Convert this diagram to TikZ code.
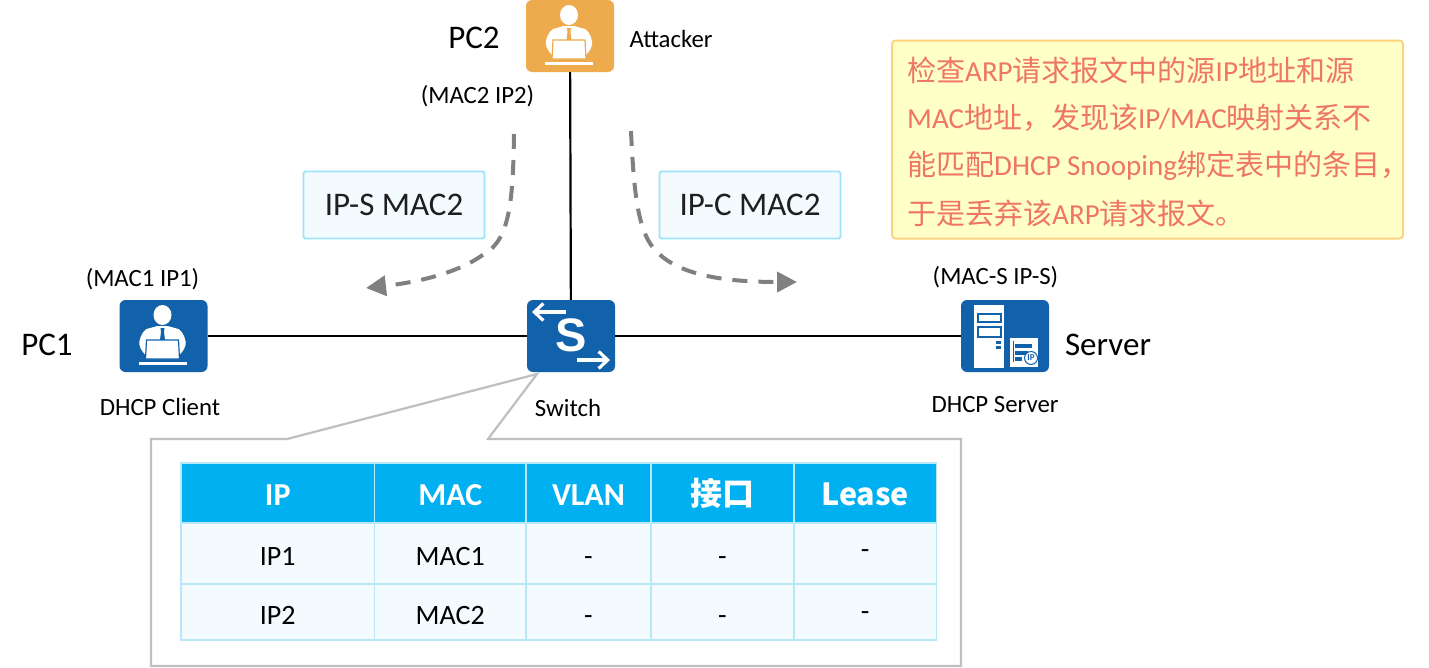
\documentclass[tikz,border=0pt]{standalone}
\usepackage{fontspec}
\setmainfont{Carlito}
\newfontfamily\cjk{Noto Sans CJK SC}
\newfontfamily\arialbold{Liberation Sans}
\usetikzlibrary{arrows.meta}

\definecolor{icblue}{HTML}{1262AB}
\definecolor{icorange}{HTML}{EDAB4E}
\definecolor{packfill}{HTML}{F3FBFF}
\definecolor{packline}{HTML}{9FE2FA}
\definecolor{headfill}{HTML}{00B0F0}
\definecolor{cellline}{HTML}{B8E8F8}
\definecolor{notefill}{HTML}{FFFFC8}
\definecolor{noteline}{HTML}{FFD27F}
\definecolor{notetext}{HTML}{EE7568}
\definecolor{flowgray}{HTML}{808080}
\definecolor{framegray}{HTML}{BFBFBF}

\newcommand{\zh}[1]{{\cjk #1}}
\newcommand{\fs}[1]{\fontsize{#1}{#1}\selectfont}

\tikzset{
  iconbox/.style={rectangle, rounded corners=6pt, minimum width=88pt, minimum height=72pt, inner sep=0pt},
  biglabel/.style={inner sep=0pt, font=\fs{33}},
  smalllabel/.style={inner sep=0pt, font=\fs{24.8}},
  packet/.style={draw=packline, fill=packfill, line width=1.8pt, rounded corners=1.5pt, minimum width=181pt,
    minimum height=67pt, inner sep=0pt, font=\fs{33}, text=black!88},
  flow/.style={draw=flowgray, line width=4pt, dash pattern=on 15pt off 11pt, -{Triangle[length=20pt,width=20pt]}},
  cell/.style={draw=cellline, line width=1.8pt, inner sep=0pt, minimum height=#1, text height=26pt, text depth=2pt},
  headcell/.style={cell=60pt, fill=headfill, text=white, font=\fs{32}\bfseries},
  bodycell/.style={cell=57pt, fill=packfill, font=\fs{28}},
  pics/person/.style={code={
    \fill[white] (-1,-21) ellipse (9pt and 10pt);
    \fill[white] (-6,-10) -- (-17,-7) .. controls (-22,-4) and (-25,5) .. (-24,9) .. controls (-23,14) and (-19,18) .. (-16,21)
      -- (14,21) .. controls (17,18) and (21,14) .. (22,9) .. controls (23,5) and (20,-4) .. (15,-7) -- (4,-10) -- cycle;
    \fill[#1] (-3,-8) -- (1,-8) -- (0.5,-4) -- (1.5,4) -- (-3.5,4) -- (-2.5,-4) -- cycle;
    \draw[#1, fill=white, line width=1.2pt] (-17,4) -- (15,4) -- (16,23) -- (-18,23) -- cycle;
    \fill[white] (-25,26) rectangle (23,28.5);
  }}
}

\begin{document}
\begin{tikzpicture}[x=1pt,y=-1pt]
  \useasboundingbox (0,0) rectangle (1429,667);

  % devices
  \node (attacker) [iconbox, fill=icorange] at (570,36) {};
  \node (client)   [iconbox, fill=icblue]   at (163.5,336) {};
  \node (switch)   [iconbox, fill=icblue]   at (571,336) {};
  \node (server)   [iconbox, fill=icblue]   at (1005,336) {};

  \draw[line width=2.2pt] (client) -- (switch);
  \draw[line width=2.2pt] (switch) -- (server);
  \draw[line width=2.2pt] (attacker) -- (switch);

  \pic at (attacker) {person=icorange};
  \pic at (client) {person=icblue};

  % switch glyph
  \begin{scope}[shift={(switch.center)}]
    \draw[white, line width=3.2pt, {Straight Barb[length=9pt,width=17pt]}-] (-39,-24) -- (-5,-24);
    \draw[white, line width=3.2pt, -{Straight Barb[length=9pt,width=17pt]}] (6,24) -- (39,24);
    \node (swS) [inner sep=0pt, text=white, font=\arialbold\bfseries\fs{47}] at (0,-1) {S};
  \end{scope}

  % server glyph
  \begin{scope}[shift={(server.center)}]
    \fill[white] (-31,-31) rectangle (-1,32);
    \draw[icblue, line width=1.5pt] (-27,-22) rectangle (-4,-14);
    \draw[icblue, line width=1.5pt] (-27,-9) rectangle (-4,1);
    \fill[icblue] (-9,5) rectangle (-4,8);
    \fill[icblue] (-9,10) rectangle (-4,13);
    \fill[white] (5,2) rectangle (33,31);
    \fill[icblue] (7.5,5) rectangle (8.5,26);
    \fill[icblue] (10,8) rectangle (27,12);
    \fill[icblue] (10,15) rectangle (23,19);
    \fill[icblue] (10,21) rectangle (17,25);
    \draw[icblue, fill=white, line width=1pt] (26,22) circle (6.5pt);
    \node (ipmark) [inner sep=0pt, text=icblue, font=\fs{9}\bfseries] at (26,22) {IP};
  \end{scope}

  % labels
  \node (pc2)     [biglabel]   at (474,38)    {PC2};
  \node (attname) [smalllabel] at (671,39)    {Attacker};
  \node (pc2addr) [smalllabel] at (477.5,96)  {(MAC2 IP2)};
  \node (pc1)     [biglabel]   at (47,345)    {PC1};
  \node (pc1addr) [smalllabel] at (142.5,279) {(MAC1 IP1)};
  \node (cliname) [smalllabel] at (160,407)   {DHCP Client};
  \node (swname)  [smalllabel] at (568,408)   {Switch};
  \node (srvaddr) [smalllabel] at (995.5,277) {(MAC-S IP-S)};
  \node (srvpc)   [biglabel]   at (1108,345)  {Server};
  \node (srvname) [smalllabel] at (995,405)   {DHCP Server};

  % packets
  \node (pktS) [packet] at (394,205) {IP-S MAC2};
  \node (pktC) [packet] at (750,205) {IP-C MAC2};

  \coordinate (flowSa) at (514,134);
  \coordinate (flowSb) at (484,254);
  \coordinate (flowSc) at (366,288);
  \coordinate (flowCa) at (631,131);
  \coordinate (flowCb) at (658,253);
  \coordinate (flowCc) at (797,282);
  \draw[flow] (flowSa) .. controls (513,200) and (510,240) .. (flowSb) .. controls (460,272) and (420,282) .. (flowSc);
  \draw[flow] (flowCa) .. controls (634,195) and (638,235) .. (flowCb) .. controls (680,274) and (720,282) .. (flowCc);

  % note
  \node (note) [draw=noteline, fill=notefill, line width=2pt, rounded corners=3.5pt, minimum width=511pt, minimum height=198pt,
    inner sep=0pt, anchor=north west] at (891,39.5) {};
  \node (notetxt) [anchor=north west, inner sep=0pt, text=notetext, align=left, font=\fs{29}] at (907,57) {%
    \zh{检查}ARP\zh{请求报文中的源}IP\zh{地址和源}\\[18pt]
    MAC\zh{地址，发现该}IP/MAC\zh{映射关系不}\\[18pt]
    \zh{能匹配}DHCP Snooping\zh{绑定表中的条目，}\\[18pt]
    \zh{于是丢弃该}ARP\zh{请求报文。}};

  % binding table
  \draw[framegray, line width=2.2pt, fill=white] (151,439) -- (287,439) -- (537,374) -- (488,439) -- (961,439) -- (961,666) -- (151,666) -- cycle;

  \node (hIP)    [headcell, minimum width=193.5pt] at (277.75,493) {IP};
  \node (hMAC)   [headcell, minimum width=151.5pt] at (450.25,493) {MAC};
  \node (hVLAN)  [headcell, minimum width=125pt]   at (588.5,493)  {VLAN};
  \node (hPort)  [headcell, minimum width=143pt]   at (722.5,493)  {\zh{接口}};
  \node (hLease) [headcell, minimum width=142.5pt] at (865.25,493) {\cjk\fs{30.5}\bfseries Lease};

  \node (aIP)    [bodycell, minimum width=193.5pt, minimum height=61pt] at (277.75,553.5) {IP1};
  \node (aMAC)   [bodycell, minimum width=151.5pt, minimum height=61pt] at (450.25,553.5) {MAC1};
  \node (aVLAN)  [bodycell, minimum width=125pt, minimum height=61pt]   at (588.5,553.5)  {-};
  \node (aPort)  [bodycell, minimum width=143pt, minimum height=61pt]   at (722.5,553.5)  {-};
  \node (aLease) [bodycell, minimum width=142.5pt, minimum height=61pt] at (865.25,553.5) {\raisebox{7pt}{-}};

  \node (bIP)    [bodycell, minimum width=193.5pt, minimum height=56pt] at (277.75,612) {IP2};
  \node (bMAC)   [bodycell, minimum width=151.5pt, minimum height=56pt] at (450.25,612) {MAC2};
  \node (bVLAN)  [bodycell, minimum width=125pt, minimum height=56pt]   at (588.5,612)  {-};
  \node (bPort)  [bodycell, minimum width=143pt, minimum height=56pt]   at (722.5,612)  {-};
  \node (bLease) [bodycell, minimum width=142.5pt, minimum height=56pt] at (865.25,612) {\raisebox{4pt}{-}};
\end{tikzpicture}
\end{document}
